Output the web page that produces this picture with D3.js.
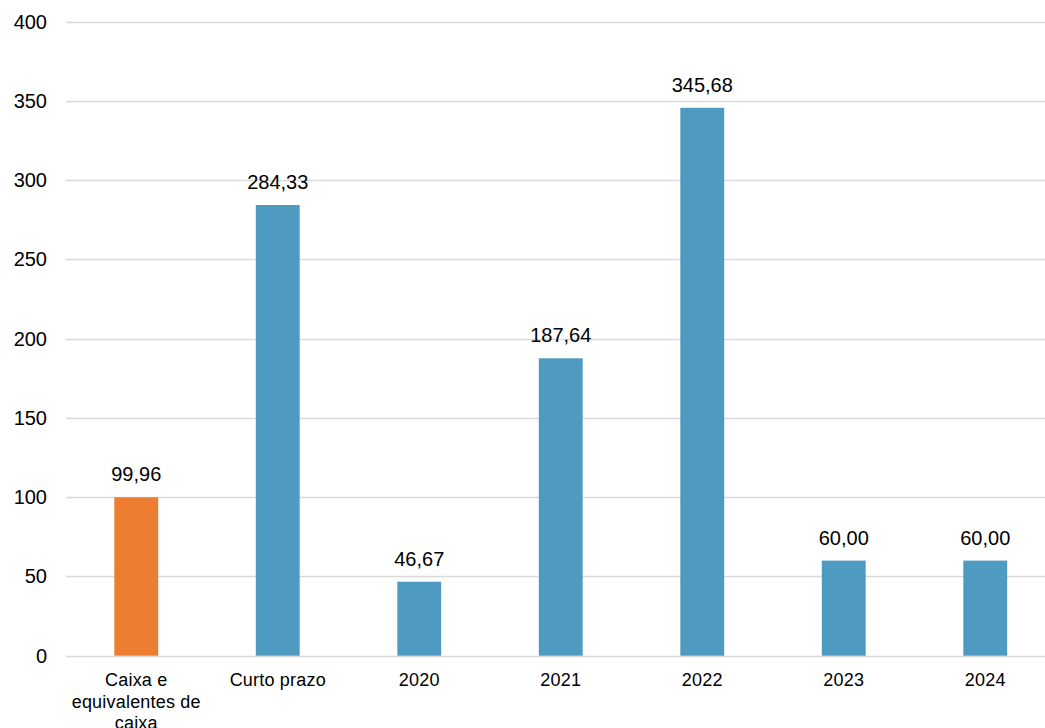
<!DOCTYPE html>
<html>
<head>
<meta charset="utf-8">
<script src="https://cdn.jsdelivr.net/npm/d3@7"></script>
<style>
  body { margin: 0; background: #fff; }
  text { font-family: "Liberation Sans", Arial, sans-serif; fill: #000; }
</style>
</head>
<body>
<script>
var categories = ['Caixa e equivalentes de caixa', 'Curto prazo', '2020', '2021', '2022', '2023', '2024'];
var values = [99.96, 284.33, 46.67, 187.64, 345.68, 60.00, 60.00];
var colors = ['#ED7D31', '#4F9AC1', '#4F9AC1', '#4F9AC1', '#4F9AC1', '#4F9AC1', '#4F9AC1'];
var yTicks = [0, 50, 100, 150, 200, 250, 300, 350, 400];

var width = 1045,
	height = 728;

var svg = d3.select('body').append('svg')
	.attr('width', width)
	.attr('height', height);

var x = d3.scaleBand()
	.domain(categories)
	.range([65.5, 1056])
	.paddingInner(0.69)
	.paddingOuter(0.345);

var y = d3.scaleLinear()
	.domain([0, 400])
	.range([655.7, 21.7]);

// gridlines
svg.append('g').selectAll('line')
	.data(yTicks)
	.enter().append('line')
	.attr('x1', 66)
	.attr('x2', width)
	.attr('y1', function (d) { return Math.round(y(d)) + 0.5; })
	.attr('y2', function (d) { return Math.round(y(d)) + 0.5; })
	.attr('stroke', '#D9D9D9')
	.attr('stroke-width', 1.5);

// y tick labels
svg.append('g').selectAll('text')
	.data(yTicks)
	.enter().append('text')
	.attr('x', 47)
	.attr('y', function (d) { return y(d); })
	.attr('dy', '0.35em')
	.attr('text-anchor', 'end')
	.style('font-size', '20px')
	.text(function (d) { return d; });

// bars
svg.append('g').selectAll('rect')
	.data(values)
	.enter().append('rect')
	.attr('x', function (d, i) { return x(categories[i]); })
	.attr('width', x.bandwidth())
	.attr('y', function (d) { return y(d); })
	.attr('height', function (d) { return y(0) - y(d); })
	.attr('fill', function (d, i) { return colors[i]; });

// value labels
svg.append('g').selectAll('text')
	.data(values)
	.enter().append('text')
	.attr('x', function (d, i) { return x(categories[i]) + x.bandwidth() / 2; })
	.attr('y', function (d) { return y(d) - 16; })
	.attr('text-anchor', 'middle')
	.style('font-size', '20px')
	.text(function (d) { return d.toFixed(2).replace('.', ','); });

// category labels, wrapped
var catG = svg.append('g');
categories.forEach(function (c, i) {
	var cx = x(c) + x.bandwidth() / 2;
	var t = catG.append('text')
		.attr('x', cx)
		.attr('y', 686)
		.attr('text-anchor', 'middle')
		.style('font-size', '18px')
		.style('letter-spacing', '0.2px');
	var words = c.split(' '),
		line = [],
		ts = t.append('tspan').attr('x', cx).attr('dy', 0);
	words.forEach(function (w) {
		line.push(w);
		ts.text(line.join(' '));
		if (ts.node().getComputedTextLength() > 136 && line.length > 1) {
			line.pop();
			ts.text(line.join(' '));
			line = [w];
			ts = t.append('tspan').attr('x', cx).attr('dy', 21.5).text(w);
		}
	});
});
</script>
</body>
</html>
